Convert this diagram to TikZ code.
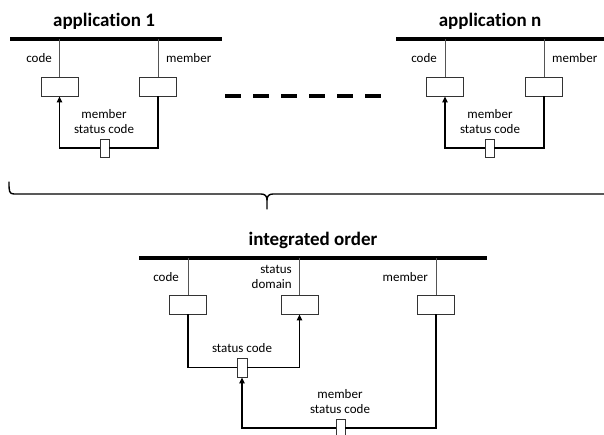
\documentclass[tikz,border=0pt]{standalone}
\usepackage{fontspec}
\setmainfont[Ligatures=NoCommon]{Carlito}
\usepackage{tikz}
\usetikzlibrary{
  arrows.meta,
  positioning,
  calc
}
\definecolor{linegrey}{HTML}{555555}
\definecolor{boxgrey}{HTML}{333333}

\tikzset{
  heading/.style={font=\fontsize{19}{21}\selectfont\bfseries, inner sep=0pt},
  lbl/.style={font=\fontsize{13}{15}\selectfont, inner sep=0pt, align=center},
  attrbox/.style={draw=boxgrey, line width=0.9pt, fill=white, minimum width=37pt, minimum height=19pt, inner sep=0pt},
  keybox/.style={draw=boxgrey, line width=0.9pt, fill=white, minimum width=9pt, minimum height=18pt, inner sep=0pt},
  bar/.style={line width=3.8pt},
  stem/.style={draw=linegrey, line width=0.9pt},
  link/.style={line width=1.3pt},
  ref/.style={link, -{Triangle[length=6pt, width=5.5pt]}},
  brace/.style={line width=1.4pt, line cap=round, line join=round}
}

\begin{document}
\begin{tikzpicture}[x=1pt, y=-1pt]
  \useasboundingbox (0,0) rectangle (604,434);

  % application 1
  \node[heading] (t1) at (104,21) {application 1};
  \coordinate (b1l) at (10,39);
  \coordinate (b1r) at (222,39);
  \draw[bar] (b1l) -- (b1r);
  \node[attrbox] (c1) at (59.5,86.5) {};
  \node[attrbox] (m1) at (158,86.5) {};
  \node[keybox]  (k1) at (104.5,148) {};
  \draw[stem] (c1.north) -- (c1.north |- b1l);
  \draw[stem] (m1.north) -- (m1.north |- b1l);
  \node[lbl, anchor=east] (lc1) at (52,58) {code};
  \node[lbl, anchor=west] (lm1) at (166,58) {member};
  \node[lbl] (ls1) at (104,122) {member\\status code};
  \draw[link] (m1.south) |- (k1.east);
  \draw[ref] (k1.west) -| (c1.south);

  % application n
  \node[heading] (tn) at (490,21) {application n};
  \coordinate (bnl) at (396,39);
  \coordinate (bnr) at (604,39);
  \draw[bar] (bnl) -- (bnr);
  \node[attrbox] (cn) at (445,86.5) {};
  \node[attrbox] (mn) at (544,86.5) {};
  \node[keybox]  (kn) at (489.5,148) {};
  \draw[stem] (cn.north) -- (cn.north |- bnl);
  \draw[stem] (mn.north) -- (mn.north |- bnl);
  \node[lbl, anchor=east] (lcn) at (437,58) {code};
  \node[lbl, anchor=west] (lmn) at (552,58) {member};
  \node[lbl] (lsn) at (490,122) {member\\status code};
  \draw[link] (mn.south) |- (kn.east);
  \draw[ref] (kn.west) -| (cn.south);

  % dots between the applications
  \coordinate (d1) at (225,96);
  \coordinate (d2) at (381,96);
  \draw[line width=4pt, dash pattern=on 16pt off 12pt] (d1) -- (d2);

  % brace
  \coordinate (br1) at (9,182);
  \coordinate (brm) at (267,209);
  \coordinate (br2) at (604,194);
  \draw[brace] (br1) .. controls (9,191) and (9,194) .. (14,194) -- (261,194)
    .. controls (265,194) and (267,196) .. (267,200) -- (brm);
  \draw[brace] (267,200) .. controls (267,196) and (269,194) .. (273,194) -- (br2);

  % integrated order
  \node[heading] (ti) at (313,240) {integrated order};
  \coordinate (bil) at (139,258);
  \coordinate (bir) at (487,258);
  \draw[bar] (bil) -- (bir);
  \node[attrbox] (ca) at (188,304.5) {};
  \node[attrbox] (sd) at (299.5,304.5) {};
  \node[attrbox] (mb) at (436,304.5) {};
  \draw[stem] (ca.north) -- (ca.north |- bil);
  \draw[stem] (sd.north) -- (sd.north |- bil);
  \draw[stem] (mb.north) -- (mb.north |- bil);
  \node[lbl, anchor=east] (lca) at (179,277) {code};
  \node[lbl, anchor=east, align=right] (lsd) at (292,277) {status\\domain};
  \node[lbl, anchor=east] (lmb) at (428,277) {member};
  \node[keybox, minimum width=10pt, minimum height=19pt] (k2) at (242,367.5) {};
  \node[keybox] (k3) at (340.5,428) {};
  \node[lbl] (lsc) at (242,348) {status code};
  \node[lbl] (lms) at (340,401.5) {member\\status code};
  \draw[link] (ca.south) |- (k2.west);
  \draw[ref] (k2.east) -| (sd.south);
  \draw[link] (mb.south) |- (k3.east);
  \draw[ref] (k3.west) -| (k2.south);
\end{tikzpicture}
\end{document}
